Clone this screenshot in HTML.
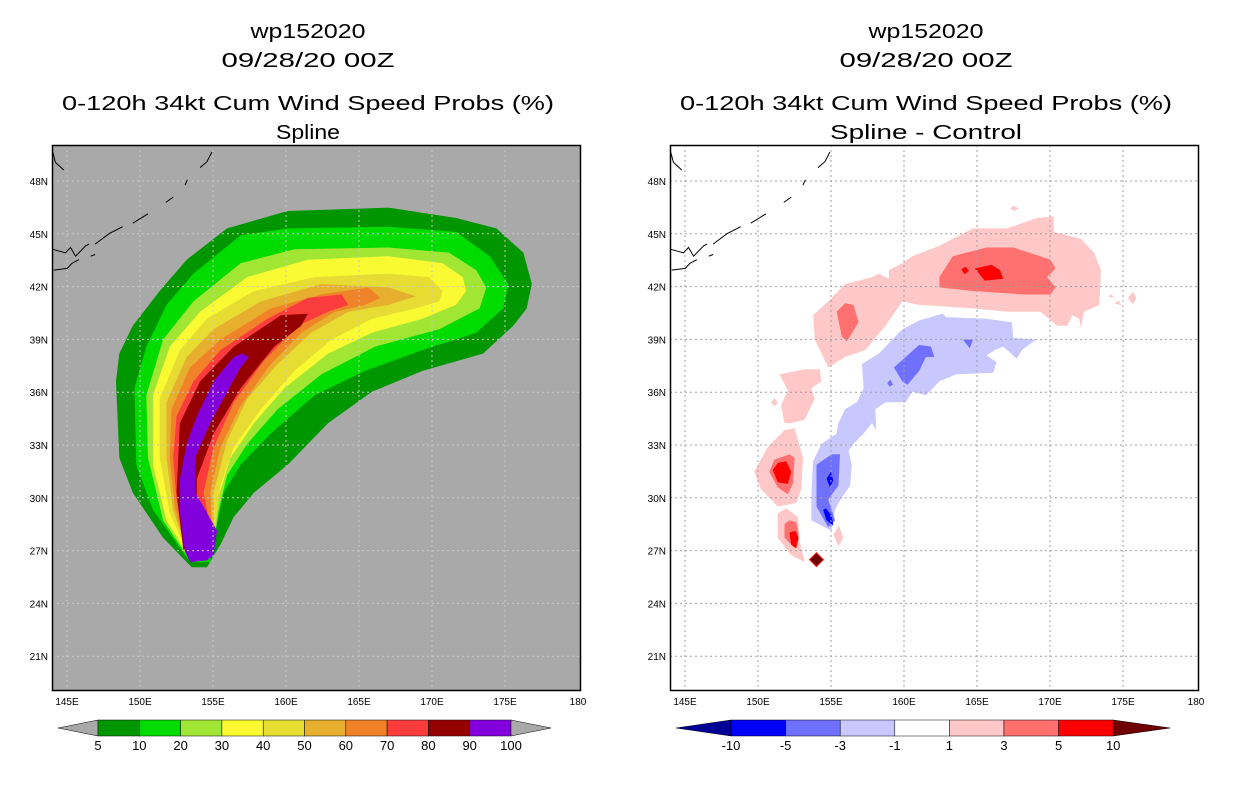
<!DOCTYPE html>
<html><head><meta charset="utf-8"><style>
body{margin:0;background:#fff;width:1236px;height:800px;overflow:hidden;font-family:"Liberation Sans",sans-serif}
svg{position:absolute;left:0;top:0}
</style></head><body>
<svg id="s" width="1236" height="800" font-family="Liberation Sans, sans-serif"></svg>
<script>
const lonTicks=[145,150,155,160,165,170,175,180];
const lonLabels=["145E","150E","155E","160E","165E","170E","175E","180"];
const latTicks=[48,45,42,39,36,33,30,27,24,21];
const leftLevels=["5","10","20","30","40","50","60","70","80","90","100"];
const leftColors=["#009600","#00dc00","#a0e632","#fafa32","#e6dc32","#e6af2d","#f08228","#fa3c3c","#960000","#8200dc"];
const rightLevels=["-10","-5","-3","-1","1","3","5","10"];
const rightColors=["#0000ff","#7070ff","#c8c8ff","#ffffff","#ffc8c8","#ff7070","#ff0000"];
const rightEnds=["#000096","#700000"];
const leftShapes=[
[0,[415,1215,330,1130,240,1000,200,900,190,680,200,600,240,520,320,420,400,330,520,240,700,190,1000,180,1200,210,1320,240,1400,310,1425,400,1410,470,1370,520,1280,600,1100,650,950,710,820,800,700,920,600,1000,540,1070,500,1150,460,1215]],
[1,[410,1200,300,1050,250,920,245,700,280,580,340,460,420,370,560,260,700,240,1000,235,1200,250,1300,320,1355,400,1340,470,1260,540,1100,590,930,650,780,720,650,830,560,920,510,1000,490,1090,470,1200]],
[2,[410,1195,330,1080,285,900,280,720,330,560,420,450,560,340,720,300,1000,295,1180,310,1260,360,1290,410,1270,470,1150,530,960,580,800,660,670,760,580,860,520,950,495,1050,480,1150]],
[3,[410,1190,340,1080,300,920,300,720,350,580,440,480,580,380,760,330,1000,320,1160,340,1220,380,1230,420,1200,460,1100,500,950,540,820,600,690,700,600,800,530,900,495,1010,480,1130]],
[4,[410,1185,350,1060,320,900,320,730,380,590,460,500,600,420,780,380,1000,370,1120,380,1160,420,1150,450,1080,470,950,500,830,560,720,650,620,760,540,870,500,980,480,1120]],
[5,[405,1180,360,1050,340,900,340,740,400,610,480,530,620,450,800,400,1000,410,1080,435,1000,460,880,480,770,540,670,630,580,730,520,850,480,1000,480,1120]],
[6,[400,1175,365,1040,350,900,355,760,410,640,500,560,650,470,800,430,940,410,975,440,930,460,840,480,740,540,650,630,560,750,500,870,470,1000,475,1110]],
[7,[395,1170,370,1020,360,900,370,780,420,680,500,590,640,500,760,440,860,430,880,460,820,480,730,520,630,620,540,740,480,870,450,1000,470,1100]],
[8,[390,1165,370,1000,380,800,440,680,540,580,680,490,760,485,740,520,660,580,560,700,480,830,430,960,430,1010,460,1060,480,1110]],
[9,[395,1170,410,1200,460,1195,480,1180,490,1110,450,1040,425,1000,425,900,470,800,560,640,585,610,565,600,540,610,480,680,430,780,400,860,380,960,380,1060]]
];
const rightShapes=[
["#ffc8c8",[425,490,430,560,470,640,520,610,580,590,640,520,690,450,740,460,900,470,1000,480,1100,480,1150,520,1180,520,1195,490,1215,500,1220,525,1230,480,1275,460,1280,360,1260,310,1220,270,1140,250,1140,205,1090,210,1000,240,900,240,800,290,720,320,690,340,650,360,650,385,620,370,600,380,560,390,520,400,470,450]],
["#ffc8c8",[1010,182,1022,175,1035,183,1022,190]],
["#ffc8c8",[1360,440,1375,422,1385,440,1375,458]],
["#ffc8c8",[1320,455,1332,448,1342,462]],
["#ffc8c8",[1300,435,1312,430,1318,440]],
["#ff7070",[800,380,800,410,900,420,1050,430,1130,430,1145,410,1120,380,1145,355,1130,330,1020,295,940,295,840,320]],
["#ff0000",[905,355,935,390,990,385,980,360,955,345]],
["#ff0000",[865,358,878,350,888,362,875,372]],
["#ff7070",[495,480,510,550,525,565,560,510,545,460,520,455]],
["#ffc8c8",[325,660,350,705,330,750,340,800,360,800,400,790,430,730,420,700,450,680,445,645,400,645]],
["#ffc8c8",[300,740,310,728,320,742,310,752]],
["#ffc8c8",[250,940,270,990,320,1040,375,1030,390,990,395,900,370,815,340,820,290,870]],
["#ff7070",[295,940,320,985,350,1005,365,975,370,900,355,890,310,905]],
["#ff0000",[305,935,320,970,350,975,360,940,345,910,320,915]],
["#ffc8c8",[320,1060,320,1130,360,1180,400,1200,385,1140,380,1070,345,1045]],
["#ff7070",[340,1090,340,1130,370,1160,382,1120,375,1085,355,1080]],
["#ff0000",[355,1115,360,1150,375,1160,382,1130,372,1110]],
["#ffc8c8",[485,1120,500,1155,515,1130,502,1095]],
["#c8c8ff",[420,1060,420,1080,480,1110,490,1050,500,1030,535,980,540,920,530,880,545,860,575,830,600,800,612,820,610,760,640,740,700,740,720,710,760,720,800,680,850,660,960,655,970,625,940,605,965,590,990,580,1030,615,1045,590,1080,565,1090,560,1020,555,1015,510,940,500,820,495,810,485,740,505,690,530,620,600,570,630,575,700,555,740,520,760,500,800,495,830,450,860,425,910,420,1000]],
["#7070ff",[665,640,690,680,705,690,740,650,760,610,785,610,775,580,740,575,700,610]],
["#7070ff",[645,685,655,675,662,690,652,695]],
["#7070ff",[870,560,890,585,900,560]],
["#7070ff",[435,920,435,1040,470,1100,490,1080,470,1020,500,980,505,890,480,890,450,910]],
["#0000ff",[465,960,475,985,485,965,478,940]],
["#0000ff",[455,1050,465,1080,485,1095,480,1065,462,1045]]
];
const coast=[[2,20,10,50,35,72],[440,65,460,48,470,30,475,20],[338,165,360,150],[395,115,402,100],[240,225,285,198],[128,285,170,255,210,235],[2,300,40,310,55,295,70,320,100,290,110,285],[5,360,45,355,60,340,80,330],[115,320,128,315]];

const s=document.getElementById('s');const NS='http://www.w3.org/2000/svg';
function mk(t,a,p){const e=document.createElementNS(NS,t);for(const k in a)e.setAttribute(k,a[k]);(p||s).appendChild(e);return e;}
const BX=[52,670],BY=145,BW=528,BH=545;
function xOf(p,lon){return BX[p]+15+(lon-145)*14.6;}
function yOf(lat){return 181+(48-lat)*17.6;}
function pts(p,a){let r=[];for(let i=0;i<a.length;i+=2)r.push((BX[p]+a[i]/2.97).toFixed(1)+','+(BY+a[i+1]/2.877).toFixed(1));return r.join(' ');}
function txt(x,y,str,size,anchor,name,len){const e=mk('text',{x:x,y:y,'font-size':size,'text-anchor':anchor||'middle',fill:'#000'});
if(len){e.setAttribute('textLength',len);e.setAttribute('lengthAdjust','spacingAndGlyphs');}
e.textContent=str;


return e;}

for(let p=0;p<2;p++){
  const g=mk('g',{});
  
  
  const bg=mk('rect',{x:BX[p],y:BY,width:BW,height:BH,fill:p?'#fff':'#a9a9a9'},g);
  
  
  const shapes=p?rightShapes:leftShapes;
  shapes.forEach(sh=>{
    const col=p?sh[0]:leftColors[sh[0]];
    const pl=mk('polygon',{points:pts(p,sh[1]),fill:col},g);
    
    
  });
  if(p){const cx=BX[1]+435/2.97,cy=BY+1193/2.877;
    const d=mk('polygon',{points:`${cx},${cy-7} ${cx+7},${cy} ${cx},${cy+7} ${cx-7},${cy}`,fill:'#700000',stroke:'#ff2020','stroke-width':1},g);
    
    }
  const gc=p?'#a0a0a0':'#c8c8c8';
  lonTicks.forEach((lon,i)=>{const x=xOf(p,lon);
    if(lon<180){const l=mk('line',{x1:x,y1:BY,x2:x,y2:BY+BH,stroke:gc,'stroke-dasharray':'2,3'},g);
    
    }
    txt(x,705,lonLabels[i],10,'middle','lon-tick-label');});
  latTicks.forEach(lat=>{const y=yOf(lat);
    const l=mk('line',{x1:BX[p],y1:y,x2:BX[p]+BW,y2:y,stroke:gc,'stroke-dasharray':'2,3'},g);
    
    
    txt(BX[p]-4,y+4,lat+'N',10,'end','lat-tick-label');});
  coast.forEach(c=>{const pl=mk('polyline',{points:pts(p,c),fill:'none',stroke:'#000','stroke-width':1},g);
    
    });
  const fr=mk('rect',{x:BX[p]+0.5,y:BY+0.5,width:BW,height:BH,fill:'none',stroke:'#000','stroke-width':1.5},g);
  
  
  const cx=p?926:308;
  txt(cx,38,'wp152020',20,'middle','storm-id-title',115);
  txt(cx,67,'09/28/20 00Z',20,'middle','date-title',173);
  txt(cx,110,'0-120h 34kt Cum Wind Speed Probs (%)',20,'middle','product-title',492);
  txt(cx,139,p?'Spline - Control':'Spline',20,'middle','method-title',p?192:64);
}
(function(){const x0=98,w=41.3,y=720,h=16;
  const t1=mk('polygon',{points:`58,${y+h/2} ${x0},${y} ${x0},${y+h}`,fill:'#a9a9a9',stroke:'#000','stroke-width':0.5});
  
  leftColors.forEach((c,i)=>{const r=mk('rect',{x:x0+i*w,y:y,width:w,height:h,fill:c,stroke:'#000','stroke-width':0.5});
    
    });
  const xe=x0+leftColors.length*w;
  const t2=mk('polygon',{points:`${xe},${y} ${xe+40},${y+h/2} ${xe},${y+h}`,fill:'#a9a9a9',stroke:'#000','stroke-width':0.5});
  
  leftLevels.forEach((l,i)=>txt(x0+i*w,750,l,13,'middle','colorbar-label'));
})();
(function(){const x0=731,w=54.6,y=720,h=16;
  const t1=mk('polygon',{points:`676,${y+h/2} ${x0},${y} ${x0},${y+h}`,fill:rightEnds[0],stroke:'#000','stroke-width':0.5});
  
  rightColors.forEach((c,i)=>{const r=mk('rect',{x:x0+i*w,y:y,width:w,height:h,fill:c,stroke:'#000','stroke-width':0.5});
    
    });
  const xe=x0+rightColors.length*w;
  const t2=mk('polygon',{points:`${xe},${y} ${xe+57},${y+h/2} ${xe},${y+h}`,fill:rightEnds[1],stroke:'#000','stroke-width':0.5});
  
  rightLevels.forEach((l,i)=>txt(x0+i*w,750,l,13,'middle','colorbar-label'));
})();
</script>
</body></html>
